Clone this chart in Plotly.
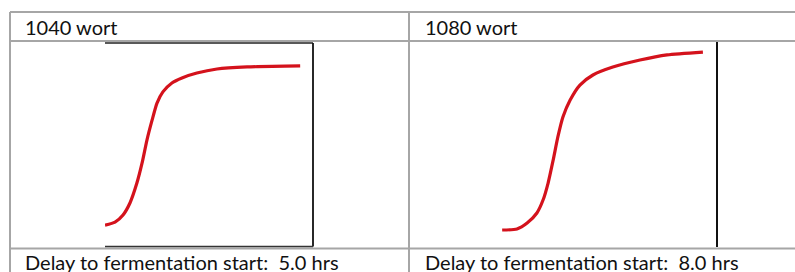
import plotly.graph_objects as go

# Data (time in hours, fermentation progress in %)
titles = ["1040 wort", "1080 wort"]
captions = ["Delay to fermentation start:  5.0 hrs", "Delay to fermentation start:  8.0 hrs"]

hours_1040 = [0, 2.9, 5.2, 7.2, 9.2, 10.7, 12.1, 13.6, 15.0, 16.7, 19.3, 22.2, 26.5, 32.3, 41.0, 56.3]
progress_1040 = [10.3, 11.8, 15.3, 21.2, 31.0, 40.9, 52.2, 62.1, 70.4, 75.9, 80.3, 82.8, 85.2, 87.2, 88.2, 88.7]

hours_1080 = [0.6, 4.7, 7.5, 10.2, 11.9, 13.3, 14.7, 16.0, 17.4, 19.4, 22.1, 25.7, 31.2, 38.7, 46.2, 56.1]
progress_1080 = [8.3, 8.8, 11.7, 16.6, 22.9, 31.2, 42.4, 53.7, 63.4, 71.7, 79.0, 83.9, 87.8, 91.2, 93.7, 95.1]

W, H = 795, 272
def px(x):
    return x / W
def py(y):
    return 1 - y / H

RED = "#d4121c"
fig = go.Figure()
fig.add_trace(go.Scatter(x=hours_1040, y=progress_1040, mode="lines",
                         line=dict(color=RED, width=3.2, shape="spline", smoothing=0.6),
                         xaxis="x", yaxis="y", showlegend=False, hoverinfo="skip"))
fig.add_trace(go.Scatter(x=hours_1080, y=progress_1080, mode="lines",
                         line=dict(color=RED, width=3.2, shape="spline", smoothing=0.6),
                         xaxis="x2", yaxis="y2", showlegend=False, hoverinfo="skip"))

ax = dict(visible=False, range=[0, 60], fixedrange=True)
ay = dict(visible=False, range=[0, 100], fixedrange=True)
fig.update_layout(
    width=W, height=H, margin=dict(l=0, r=0, t=0, b=0),
    paper_bgcolor="white", plot_bgcolor="white",
    xaxis=dict(ax, domain=[px(105), px(313)], anchor="y"),
    yaxis=dict(ay, domain=[py(246), py(43)], anchor="x"),
    xaxis2=dict(ax, domain=[px(500), px(717)], anchor="y2"),
    yaxis2=dict(ay, domain=[py(247), py(42)], anchor="x2"),
)

GREY = "#a6a6a6"
shapes = []
def line(x0, y0, x1, y1, color, w):
    shapes.append(dict(type="line", xref="paper", yref="paper",
                       x0=px(x0), y0=py(y0), x1=px(x1), y1=py(y1),
                       line=dict(color=color, width=w)))
# table grid
line(10, 12, 795, 12, GREY, 2)
line(10, 41, 795, 41, GREY, 2)
line(10, 248.5, 795, 248.5, GREY, 2)
line(10, 12, 10, 272, GREY, 2)
line(409, 12, 409, 272, GREY, 2)
# image borders
line(105, 43, 313, 43, "#222222", 1.5)
line(313, 43, 313, 246.5, "#111111", 1.8)
line(105, 246.5, 313, 246.5, "#333333", 1.5)
line(717, 42, 717, 247, "#111111", 2)
fig.update_layout(shapes=shapes)

FONT = dict(family="Lato, Carlito, sans-serif", size=20, color="#111111")
ann = []
for x0, t in zip([23, 423], titles):
    ann.append(dict(text=t, xref="paper", yref="paper", x=px(x0), y=py(27),
                    xanchor="left", yanchor="middle", showarrow=False, font=FONT))
for x0, t in zip([23, 423], captions):
    ann.append(dict(text=t, xref="paper", yref="paper", x=px(x0), y=py(262),
                    xanchor="left", yanchor="middle", showarrow=False, font=FONT))
fig.update_layout(annotations=ann)

fig.write_html("out.html", config={"staticPlot": True},
               post_script="document.body.style.margin='0';document.body.style.overflow='hidden';")
